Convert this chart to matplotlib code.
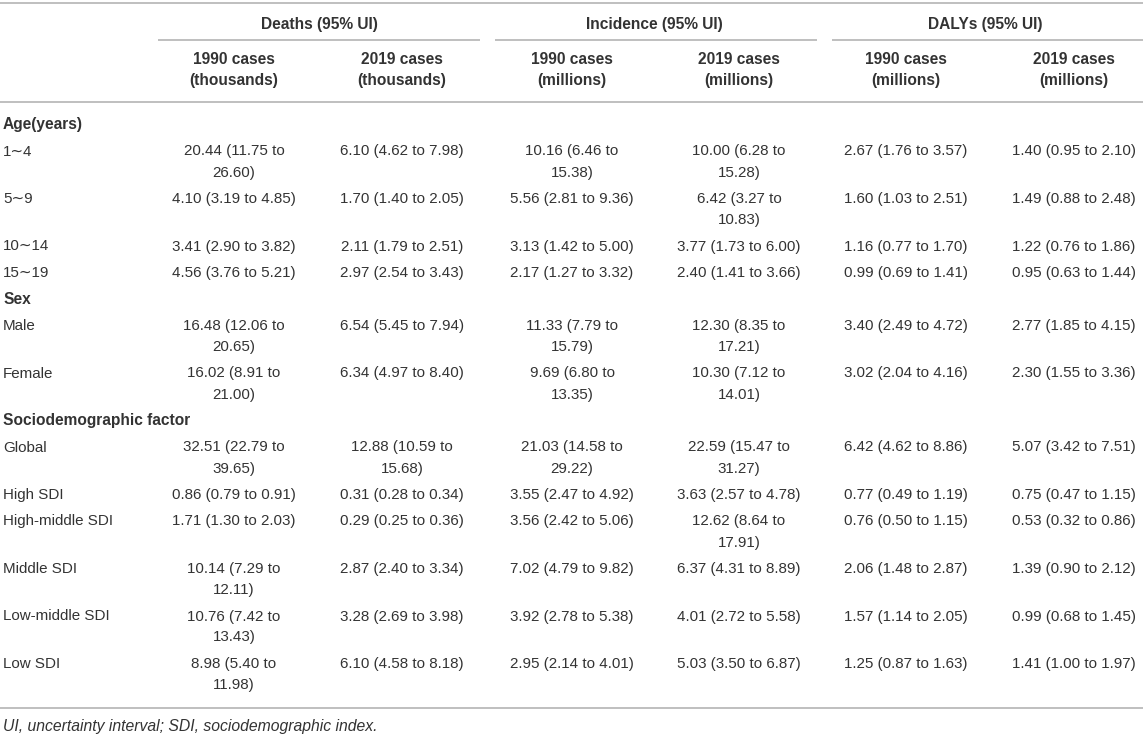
import textwrap
import matplotlib.pyplot as plt

plt.rcParams['font.family'] = ['Liberation Sans', 'DejaVu Sans']

# table values: (estimate, lower, upper)
row_labels = ["1∼4", "5∼9", "10∼14", "15∼19", "Male", "Female", "Global",
              "High SDI", "High-middle SDI", "Middle SDI", "Low-middle SDI", "Low SDI"]
sections = {0: "Age(years)", 4: "Sex", 6: "Sociodemographic factor"}

deaths_1990 = [(20.44, 11.75, 26.60), (4.10, 3.19, 4.85), (3.41, 2.90, 3.82), (4.56, 3.76, 5.21),
               (16.48, 12.06, 20.65), (16.02, 8.91, 21.00), (32.51, 22.79, 39.65), (0.86, 0.79, 0.91),
               (1.71, 1.30, 2.03), (10.14, 7.29, 12.11), (10.76, 7.42, 13.43), (8.98, 5.40, 11.98)]
deaths_2019 = [(6.10, 4.62, 7.98), (1.70, 1.40, 2.05), (2.11, 1.79, 2.51), (2.97, 2.54, 3.43),
               (6.54, 5.45, 7.94), (6.34, 4.97, 8.40), (12.88, 10.59, 15.68), (0.31, 0.28, 0.34),
               (0.29, 0.25, 0.36), (2.87, 2.40, 3.34), (3.28, 2.69, 3.98), (6.10, 4.58, 8.18)]
inc_1990 = [(10.16, 6.46, 15.38), (5.56, 2.81, 9.36), (3.13, 1.42, 5.00), (2.17, 1.27, 3.32),
            (11.33, 7.79, 15.79), (9.69, 6.80, 13.35), (21.03, 14.58, 29.22), (3.55, 2.47, 4.92),
            (3.56, 2.42, 5.06), (7.02, 4.79, 9.82), (3.92, 2.78, 5.38), (2.95, 2.14, 4.01)]
inc_2019 = [(10.00, 6.28, 15.28), (6.42, 3.27, 10.83), (3.77, 1.73, 6.00), (2.40, 1.41, 3.66),
            (12.30, 8.35, 17.21), (10.30, 7.12, 14.01), (22.59, 15.47, 31.27), (3.63, 2.57, 4.78),
            (12.62, 8.64, 17.91), (6.37, 4.31, 8.89), (4.01, 2.72, 5.58), (5.03, 3.50, 6.87)]
daly_1990 = [(2.67, 1.76, 3.57), (1.60, 1.03, 2.51), (1.16, 0.77, 1.70), (0.99, 0.69, 1.41),
             (3.40, 2.49, 4.72), (3.02, 2.04, 4.16), (6.42, 4.62, 8.86), (0.77, 0.49, 1.19),
             (0.76, 0.50, 1.15), (2.06, 1.48, 2.87), (1.57, 1.14, 2.05), (1.25, 0.87, 1.63)]
daly_2019 = [(1.40, 0.95, 2.10), (1.49, 0.88, 2.48), (1.22, 0.76, 1.86), (0.95, 0.63, 1.44),
             (2.77, 1.85, 4.15), (2.30, 1.55, 3.36), (5.07, 3.42, 7.51), (0.75, 0.47, 1.15),
             (0.53, 0.32, 0.86), (1.39, 0.90, 2.12), (0.99, 0.68, 1.45), (1.41, 1.00, 1.97)]

groups = ["Deaths (95% UI)", "Incidence (95% UI)", "DALYs (95% UI)"]
sub_headers = ["1990 cases\n(thousands)", "2019 cases\n(thousands)",
               "1990 cases\n(millions)", "2019 cases\n(millions)",
               "1990 cases\n(millions)", "2019 cases\n(millions)"]
footnote = "UI, uncertainty interval; SDI, sociodemographic index."

columns = [deaths_1990, deaths_2019, inc_1990, inc_2019, daly_1990, daly_2019]

# layout in pixels
W, H = 1143, 734
col_x = [234, 402, 572, 739, 906, 1074]
group_x = [319, 654, 985]
group_lines = [(158, 480), (495, 817), (832, 1143)]
TXT = '#333333'
LINE = '#b4b4b4'
FS = 10.9
FS_B = 11.2
LH = 21.0
ROW = 26.5

fig = plt.figure(figsize=(W / 100, H / 100), dpi=100)
ax = fig.add_axes([0, 0, 1, 1])
ax.set_xlim(0, W)
ax.set_ylim(H, 0)
ax.axis('off')


def hline(y, x0=0, x1=W):
    ax.plot([x0, x1], [y, y], color=LINE, lw=1.2, solid_capstyle='butt')


hline(3)
for gx, g in zip(group_x, groups):
    ax.text(gx, 24, g, ha='center', va='center', fontsize=FS_B, fontweight='bold', color=TXT)
for x0, x1 in group_lines:
    hline(40, x0, x1)
for cx, s in zip(col_x, sub_headers):
    for i, line in enumerate(s.split("\n")):
        ax.text(cx, 60 + i * LH, line, ha='center', va='center', fontsize=FS_B,
                fontweight='bold', color=TXT)
hline(102)


def fmt(v):
    return f"{v[0]:.2f} ({v[1]:.2f} to {v[2]:.2f})"


y = 125
for r, label in enumerate(row_labels):
    if r in sections:
        ax.text(3, y, sections[r], ha='left', va='center', fontsize=FS_B,
                fontweight='bold', color=TXT)
        y += ROW
    ax.text(3, y, label, ha='left', va='center', fontsize=FS, color=TXT)
    nlines = 1
    for cx, col in zip(col_x, columns):
        parts = textwrap.wrap(fmt(col[r]), width=19)
        nlines = max(nlines, len(parts))
        for i, p in enumerate(parts):
            ax.text(cx, y + i * LH, p, ha='center', va='center', fontsize=FS, color=TXT)
    y += ROW + (nlines - 1) * LH

hline(y - 3.5)
ax.text(3, y + 15, footnote, ha='left', va='center', fontsize=11.3,
        style='italic', color=TXT)

fig.savefig('out.png', dpi=100)
